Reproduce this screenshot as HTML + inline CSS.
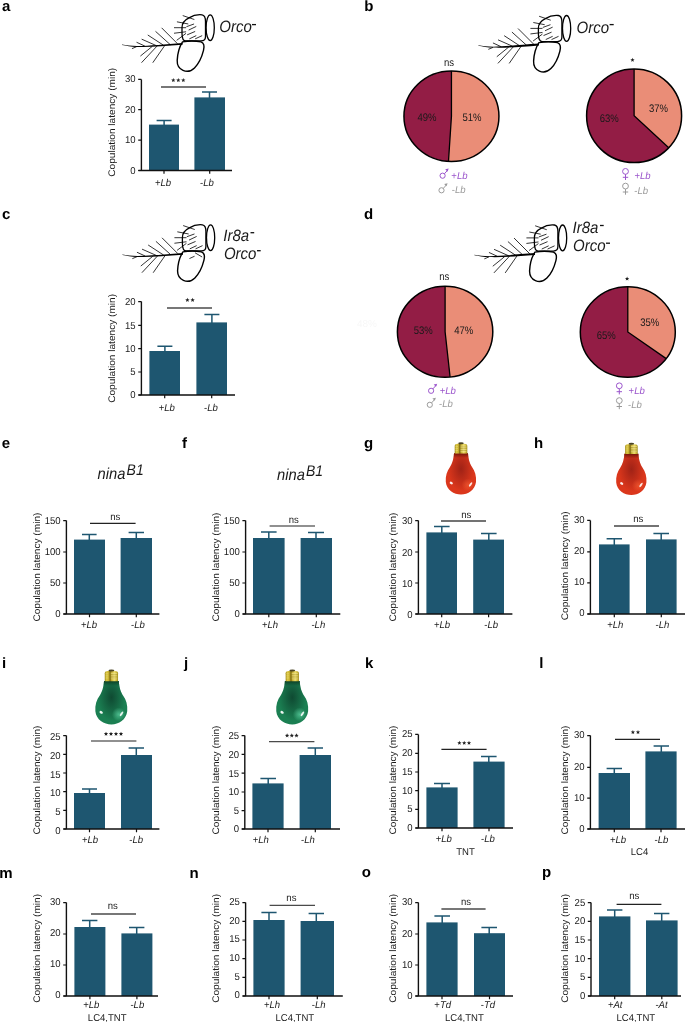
<!DOCTYPE html><html><head><meta charset="utf-8"><style>
html,body{margin:0;padding:0;background:#fff;}svg{display:block;will-change:transform;}
text{text-rendering:geometricPrecision;font-family:"Liberation Sans",sans-serif;font-size:10px;fill:#1a1a1a;}
.pl{font-weight:bold;font-size:15px;fill:#000;}
</style></head><body>
<svg width="685" height="1022" viewBox="0 0 685 1022">
<defs>

<g id="ant" fill="none" stroke="#000" stroke-linecap="round" stroke-linejoin="round">
 <path d="M182.6 42.5C165 43.7 150 45.4 137 45.6C131 45.6 126 44.9 122 44.2L122 44.6C126 45.4 131 46.3 137 46.5C150 46.9 165 45.7 182.6 44.3Z" fill="#000" stroke="none"/>
 <path d="M177.2 43L161.9 27.7M170 44L155.8 31.2M163 44.5L148.1 34.8M155.8 45L142 38.9M144.5 45.5L136.9 42M136.3 46.4L132.3 48.1" stroke-width="0.8"/>
 <path d="M164.7 45.2L153 62M157 45.7L141.8 62M152 46.2L140.7 55.4" stroke-width="0.8"/>
 <path d="M189 17.5C193 15 198 14 202 14.4C205 14.8 205.5 18 205.5 21L205.5 36C205.5 39 204 40.5 201 40.5L186 40.5C183 40.5 182 37 182 33L182 27C182 23 185 19.5 189 17.5Z" stroke-width="1.3"/>
 <ellipse cx="210.2" cy="27.3" rx="4.1" ry="12.9" stroke-width="1.3"/>
 <path d="M182.5 41.5C188 40.5 196 40.5 201 41.5C204 42.5 204.5 46 203.5 50C202 56 199 63 194.5 67.5C191 71 186.5 71.5 183 70C178.5 68 177 65 177.2 60C177.5 54 179 47 182.5 41.5Z" stroke-width="1.4"/>
 <path d="M183.1 15.3L194 19M177.3 21.5L187.9 23.5M174.4 27.3L185.7 27.3M174.4 32.8L185.7 31.4M177 39.7L185.7 33.2" stroke-width="0.8"/>
 <path d="M186.8 26.2L193.7 23.7M189 29.5L195.9 26.2M187.5 34.3L194.8 31.2M189.7 38.3L195.9 35.4M195.5 38.3L201.8 35.4" stroke-width="0.8"/>
</g>

<radialGradient id="rbg" gradientUnits="userSpaceOnUse" cx="0" cy="27" r="1" gradientTransform="translate(0 27) scale(13 22) translate(0 -27)">
 <stop offset="0" stop-color="#a02216"/>
 <stop offset="0.55" stop-color="#a02216" stop-opacity="0.45"/>
 <stop offset="1" stop-color="#a02216" stop-opacity="0"/>
</radialGradient>
<linearGradient id="rbb" gradientUnits="userSpaceOnUse" x1="0" y1="11.4" x2="0" y2="16">
 <stop offset="0" stop-color="#6a1208" stop-opacity="0.9"/>
 <stop offset="1" stop-color="#6a1208" stop-opacity="0"/>
</linearGradient>
<radialGradient id="rbw" gradientUnits="userSpaceOnUse" cx="7" cy="43" r="6.5">
 <stop offset="0" stop-color="#ff6a3a" stop-opacity="0.5"/>
 <stop offset="1" stop-color="#ff6a3a" stop-opacity="0"/>
</radialGradient>
<g id="rb">
 <path d="M-7 11.4L7 11.4C7.5 18.1 9 22.1 11 25.1C14 29.1 15.5 34.1 15 40.1C14 48.1 7 52.6 0 52.6C-7 52.6 -14.5 48.1 -15.2 40.1C-15.7 34.1 -14 29.1 -11 25.1C-9 22.1 -7.5 18.1 -7 11.4Z" fill="#db371c"/>
 <path d="M-7 11.4L7 11.4C7.5 18.1 9 22.1 11 25.1C14 29.1 15.5 34.1 15 40.1C14 48.1 7 52.6 0 52.6C-7 52.6 -14.5 48.1 -15.2 40.1C-15.7 34.1 -14 29.1 -11 25.1C-9 22.1 -7.5 18.1 -7 11.4Z" fill="url(#rbg)"/>
 <path d="M-7 11.4L7 11.4C7.5 18.1 9 22.1 11 25.1C14 29.1 15.5 34.1 15 40.1C14 48.1 7 52.6 0 52.6C-7 52.6 -14.5 48.1 -15.2 40.1C-15.7 34.1 -14 29.1 -11 25.1C-9 22.1 -7.5 18.1 -7 11.4Z" fill="url(#rbb)"/>
 <path d="M-7 11.4L7 11.4C7.5 18.1 9 22.1 11 25.1C14 29.1 15.5 34.1 15 40.1C14 48.1 7 52.6 0 52.6C-7 52.6 -14.5 48.1 -15.2 40.1C-15.7 34.1 -14 29.1 -11 25.1C-9 22.1 -7.5 18.1 -7 11.4Z" fill="url(#rbw)"/>
 <ellipse cx="-9.7" cy="41.1" rx="1.7" ry="1.2" fill="#fff" opacity="0.92" transform="rotate(30 -9.7 41.1)"/>
 <ellipse cx="9.6" cy="42.5" rx="0.95" ry="2.6" fill="#fff" opacity="0.88" transform="rotate(35 9.6 42.5)"/>
</g>

<radialGradient id="gbg" gradientUnits="userSpaceOnUse" cx="0" cy="27" r="1" gradientTransform="translate(0 27) scale(13 22) translate(0 -27)">
 <stop offset="0" stop-color="#0f4a32"/>
 <stop offset="0.55" stop-color="#0f4a32" stop-opacity="0.45"/>
 <stop offset="1" stop-color="#0f4a32" stop-opacity="0"/>
</radialGradient>
<linearGradient id="gbb" gradientUnits="userSpaceOnUse" x1="0" y1="11.4" x2="0" y2="16">
 <stop offset="0" stop-color="#0a3a22" stop-opacity="0.9"/>
 <stop offset="1" stop-color="#0a3a22" stop-opacity="0"/>
</linearGradient>
<radialGradient id="gbw" gradientUnits="userSpaceOnUse" cx="7" cy="43" r="6.5">
 <stop offset="0" stop-color="#5ad0a0" stop-opacity="0.75"/>
 <stop offset="1" stop-color="#5ad0a0" stop-opacity="0"/>
</radialGradient>
<g id="gb">
 <path d="M-7 11.4L7 11.4C7.5 18.1 9 22.1 11 25.1C14 29.1 15.5 34.1 15 40.1C14 48.1 7 52.6 0 52.6C-7 52.6 -14.5 48.1 -15.2 40.1C-15.7 34.1 -14 29.1 -11 25.1C-9 22.1 -7.5 18.1 -7 11.4Z" fill="#1b7f52"/>
 <path d="M-7 11.4L7 11.4C7.5 18.1 9 22.1 11 25.1C14 29.1 15.5 34.1 15 40.1C14 48.1 7 52.6 0 52.6C-7 52.6 -14.5 48.1 -15.2 40.1C-15.7 34.1 -14 29.1 -11 25.1C-9 22.1 -7.5 18.1 -7 11.4Z" fill="url(#gbg)"/>
 <path d="M-7 11.4L7 11.4C7.5 18.1 9 22.1 11 25.1C14 29.1 15.5 34.1 15 40.1C14 48.1 7 52.6 0 52.6C-7 52.6 -14.5 48.1 -15.2 40.1C-15.7 34.1 -14 29.1 -11 25.1C-9 22.1 -7.5 18.1 -7 11.4Z" fill="url(#gbb)"/>
 <path d="M-7 11.4L7 11.4C7.5 18.1 9 22.1 11 25.1C14 29.1 15.5 34.1 15 40.1C14 48.1 7 52.6 0 52.6C-7 52.6 -14.5 48.1 -15.2 40.1C-15.7 34.1 -14 29.1 -11 25.1C-9 22.1 -7.5 18.1 -7 11.4Z" fill="url(#gbw)"/>
 <ellipse cx="-9.7" cy="41.1" rx="1.7" ry="1.2" fill="#fff" opacity="0.92" transform="rotate(30 -9.7 41.1)"/>
 <ellipse cx="9.6" cy="42.5" rx="0.95" ry="2.6" fill="#fff" opacity="0.88" transform="rotate(35 9.6 42.5)"/>
</g>

<linearGradient id="goldg" x1="0" x2="1" y1="0" y2="0">
 <stop offset="0" stop-color="#a08a18"/>
 <stop offset="0.15" stop-color="#dcc844"/>
 <stop offset="0.3" stop-color="#c4ac2c"/>
 <stop offset="0.4" stop-color="#7a6810"/>
 <stop offset="0.52" stop-color="#c8b034"/>
 <stop offset="0.72" stop-color="#ecdc6c"/>
 <stop offset="0.86" stop-color="#d2bc3c"/>
 <stop offset="1" stop-color="#9c8818"/>
</linearGradient>
<g id="cap">
 <path d="M-6.3 11.6V4C-6.3 2.6 -5 1.8 -3.5 1.8H3.5C5 1.8 6.3 2.6 6.3 4V11.6Z" fill="url(#goldg)"/>
 <path d="M-0.5 4.2H5.6M-0.5 5.9H5.6M-0.5 7.6H5.6M-0.5 9.3H5.6" stroke="#fff6b0" stroke-width="0.7" opacity="0.7"/>
 <path d="M-0.5 5H5.6M-0.5 6.8H5.6M-0.5 8.5H5.6" stroke="#7a6a10" stroke-width="0.5" opacity="0.5"/>
 <path d="M-5.6 4.5H-3M-5.6 6.5H-3M-5.6 8.5H-3" stroke="#f0e080" stroke-width="0.8" opacity="0.6"/>
 <ellipse cx="0" cy="1.4" rx="2.8" ry="1.0" fill="#4a4424"/>
</g>
</defs>
<text class="pl" x="2.0" y="10.6">a</text>
<text class="pl" x="364.2" y="10.5">b</text>
<text class="pl" x="1.9" y="219.2">c</text>
<text class="pl" x="363.9" y="218.9">d</text>
<text class="pl" x="1.7" y="447.5">e</text>
<text class="pl" x="182.1" y="447.5">f</text>
<text class="pl" x="363.9" y="447.6">g</text>
<text class="pl" x="534.1" y="447.7">h</text>
<text class="pl" x="2.1" y="667.9">i</text>
<text class="pl" x="183.9" y="668">j</text>
<text class="pl" x="365" y="667.9">k</text>
<text class="pl" x="539.2" y="667.9">l</text>
<text class="pl" x="-0.76" y="877.5">m</text>
<text class="pl" x="189.4" y="877.7">n</text>
<text class="pl" x="361.7" y="877.2">o</text>
<text class="pl" x="542.1" y="877.4">p</text>
<rect x="149" y="124.6" width="30" height="45.9" fill="#1E5670"/>
<path d="M164.1 125.6V120.4M156.6 120.4H171.6" stroke="#1E5670" stroke-width="1.5" fill="none"/>
<rect x="194.4" y="97.4" width="30.6" height="73.1" fill="#1E5670"/>
<path d="M209.5 98.4V92M202 92H217" stroke="#1E5670" stroke-width="1.5" fill="none"/>
<path d="M141.4 79.4V170.5M138.4 170.5H232" stroke="#111" stroke-width="1.4" fill="none"/>
<path d="M138.2 79.4H141.4M138.2 109.7H141.4M138.2 140.1H141.4M138.2 170.5H141.4M164 170.5v3.2M209.7 170.5v3.2" stroke="#111" stroke-width="1.2" fill="none"/>
<text transform="translate(135.6 82.4) scale(0.955 1)" text-anchor="end">30</text>
<text transform="translate(135.6 112.7) scale(0.955 1)" text-anchor="end">20</text>
<text transform="translate(135.6 143.1) scale(0.955 1)" text-anchor="end">10</text>
<text transform="translate(135.6 173.5) scale(0.955 1)" text-anchor="end">0</text>
<path d="M161 87H206" stroke="#4a4a4a" stroke-width="1.4"/>
<path d="M173.3,77.95L173.89,79.39L175.44,79.5L174.25,80.51L174.62,82.02L173.3,81.2L171.98,82.02L172.35,80.51L171.16,79.5L172.71,79.39ZM178.3,77.95L178.89,79.39L180.44,79.5L179.25,80.51L179.62,82.02L178.3,81.2L176.98,82.02L177.35,80.51L176.16,79.5L177.71,79.39ZM183.3,77.95L183.89,79.39L185.44,79.5L184.25,80.51L184.62,82.02L183.3,81.2L181.98,82.02L182.35,80.51L181.16,79.5L182.71,79.39Z" fill="#222"/>
<text transform="translate(163 185.5) scale(0.955 1)" text-anchor="middle">+<tspan font-style="italic">Lb</tspan></text>
<text transform="translate(207 185.5) scale(0.955 1)" text-anchor="middle">-<tspan font-style="italic">Lb</tspan></text>
<text transform="translate(115.1 122.3) rotate(-90) scale(1.01 0.95)" text-anchor="middle">Copulation latency (min)</text>
<rect x="149.4" y="351" width="30.6" height="44" fill="#1E5670"/>
<path d="M164.9 352V346.2M157.4 346.2H172.4" stroke="#1E5670" stroke-width="1.5" fill="none"/>
<rect x="196.4" y="322.4" width="30.6" height="72.6" fill="#1E5670"/>
<path d="M211.9 323.4V314.4M204.4 314.4H219.4" stroke="#1E5670" stroke-width="1.5" fill="none"/>
<path d="M141.4 301.6V395M138.4 395H235" stroke="#111" stroke-width="1.4" fill="none"/>
<path d="M138.2 301.6H141.4M138.2 325.4H141.4M138.2 348.6H141.4M138.2 372H141.4M138.2 395H141.4M164.7 395v3.2M211.7 395v3.2" stroke="#111" stroke-width="1.2" fill="none"/>
<text transform="translate(135.6 304.85) scale(0.955 1)" text-anchor="end">20</text>
<text transform="translate(135.6 328.65) scale(0.955 1)" text-anchor="end">15</text>
<text transform="translate(135.6 351.85) scale(0.955 1)" text-anchor="end">10</text>
<text transform="translate(135.6 375.25) scale(0.955 1)" text-anchor="end">5</text>
<text transform="translate(135.6 398.25) scale(0.955 1)" text-anchor="end">0</text>
<path d="M167 308H212" stroke="#4a4a4a" stroke-width="1.4"/>
<path d="M187.4,297.85L187.99,299.29L189.54,299.4L188.35,300.41L188.72,301.92L187.4,301.1L186.08,301.92L186.45,300.41L185.26,299.4L186.81,299.29ZM192.6,297.85L193.19,299.29L194.74,299.4L193.55,300.41L193.92,301.92L192.6,301.1L191.28,301.92L191.65,300.41L190.46,299.4L192.01,299.29Z" fill="#222"/>
<text transform="translate(166.8 410.5) scale(0.955 1)" text-anchor="middle">+<tspan font-style="italic">Lb</tspan></text>
<text transform="translate(211 410.5) scale(0.955 1)" text-anchor="middle">-<tspan font-style="italic">Lb</tspan></text>
<text transform="translate(115.1 348.4) rotate(-90) scale(1.01 0.95)" text-anchor="middle">Copulation latency (min)</text>
<rect x="74" y="539.6" width="31" height="74.4" fill="#1E5670"/>
<path d="M89.3 540.6V534.4M82 534.4H96.6" stroke="#1E5670" stroke-width="1.5" fill="none"/>
<rect x="120.6" y="538" width="31.4" height="76" fill="#1E5670"/>
<path d="M136.3 539V532.4M128.6 532.4H144" stroke="#1E5670" stroke-width="1.5" fill="none"/>
<path d="M66.4 520.6V614M63.4 614H159.4" stroke="#111" stroke-width="1.4" fill="none"/>
<path d="M63.2 520.6H66.4M63.2 552H66.4M63.2 583H66.4M63.2 614H66.4M89.5 614v3.2M136.3 614v3.2" stroke="#111" stroke-width="1.2" fill="none"/>
<text transform="translate(60.6 524) scale(0.955 1)" text-anchor="end">150</text>
<text transform="translate(60.6 555.4) scale(0.955 1)" text-anchor="end">100</text>
<text transform="translate(60.6 586.4) scale(0.955 1)" text-anchor="end">50</text>
<text transform="translate(60.6 617.4) scale(0.955 1)" text-anchor="end">0</text>
<path d="M90 523.4H135.6" stroke="#222" stroke-width="1.2"/>
<text transform="translate(115.3 520) scale(0.955 1)" text-anchor="middle">ns</text>
<text transform="translate(89 628) scale(0.955 1)" text-anchor="middle">+<tspan font-style="italic">Lb</tspan></text>
<text transform="translate(138 628) scale(0.955 1)" text-anchor="middle">-<tspan font-style="italic">Lb</tspan></text>
<text transform="translate(39.7 567.1) rotate(-90) scale(1.01 0.95)" text-anchor="middle">Copulation latency (min)</text>
<rect x="253" y="538" width="31.6" height="76" fill="#1E5670"/>
<path d="M268.8 539V532M261 532H276.6" stroke="#1E5670" stroke-width="1.5" fill="none"/>
<rect x="300.6" y="538" width="31.4" height="76" fill="#1E5670"/>
<path d="M316 539V532.4M308 532.4H324" stroke="#1E5670" stroke-width="1.5" fill="none"/>
<path d="M245.6 520.6V614M242.6 614H340.3" stroke="#111" stroke-width="1.4" fill="none"/>
<path d="M242.4 520.6H245.6M242.4 552H245.6M242.4 583H245.6M242.4 614H245.6M268.8 614v3.2M316.3 614v3.2" stroke="#111" stroke-width="1.2" fill="none"/>
<text transform="translate(239.8 523.9) scale(0.955 1)" text-anchor="end">150</text>
<text transform="translate(239.8 555.3) scale(0.955 1)" text-anchor="end">100</text>
<text transform="translate(239.8 586.3) scale(0.955 1)" text-anchor="end">50</text>
<text transform="translate(239.8 617.3) scale(0.955 1)" text-anchor="end">0</text>
<path d="M269.6 526H315" stroke="#222" stroke-width="1.2"/>
<text transform="translate(293.8 523) scale(0.955 1)" text-anchor="middle">ns</text>
<text transform="translate(270 628) scale(0.955 1)" text-anchor="middle">+<tspan font-style="italic">Lh</tspan></text>
<text transform="translate(318.3 628) scale(0.955 1)" text-anchor="middle">-<tspan font-style="italic">Lh</tspan></text>
<text transform="translate(218.7 567.1) rotate(-90) scale(1.01 0.95)" text-anchor="middle">Copulation latency (min)</text>
<rect x="426.4" y="532.4" width="30.6" height="81.6" fill="#1E5670"/>
<path d="M441.8 533.4V526.6M434 526.6H449.6" stroke="#1E5670" stroke-width="1.5" fill="none"/>
<rect x="473.2" y="539.6" width="30.8" height="74.4" fill="#1E5670"/>
<path d="M488.8 540.6V533.4M481 533.4H496.6" stroke="#1E5670" stroke-width="1.5" fill="none"/>
<path d="M418.4 520.6V614M415.4 614H512.4" stroke="#111" stroke-width="1.4" fill="none"/>
<path d="M415.2 520.6H418.4M415.2 552H418.4M415.2 583H418.4M415.2 614H418.4M441.7 614v3.2M488.6 614v3.2" stroke="#111" stroke-width="1.2" fill="none"/>
<text transform="translate(412.6 524.2) scale(0.955 1)" text-anchor="end">30</text>
<text transform="translate(412.6 555.6) scale(0.955 1)" text-anchor="end">20</text>
<text transform="translate(412.6 586.6) scale(0.955 1)" text-anchor="end">10</text>
<text transform="translate(412.6 617.6) scale(0.955 1)" text-anchor="end">0</text>
<path d="M441 521H486" stroke="#444" stroke-width="1.3"/>
<text transform="translate(466.2 518.4) scale(0.955 1)" text-anchor="middle">ns</text>
<text transform="translate(442 628) scale(0.955 1)" text-anchor="middle">+<tspan font-style="italic">Lb</tspan></text>
<text transform="translate(491.2 628) scale(0.955 1)" text-anchor="middle">-<tspan font-style="italic">Lb</tspan></text>
<text transform="translate(395.8 567.1) rotate(-90) scale(1.01 0.95)" text-anchor="middle">Copulation latency (min)</text>
<rect x="599" y="544.4" width="30.6" height="69.6" fill="#1E5670"/>
<path d="M614.3 545.4V538.8M606.6 538.8H622" stroke="#1E5670" stroke-width="1.5" fill="none"/>
<rect x="646" y="539.4" width="30.6" height="74.6" fill="#1E5670"/>
<path d="M661.2 540.4V533.4M653.4 533.4H669" stroke="#1E5670" stroke-width="1.5" fill="none"/>
<path d="M590.4 520.4V614M587.4 614H686" stroke="#111" stroke-width="1.4" fill="none"/>
<path d="M587.2 520.4H590.4M587.2 551.8H590.4M587.2 582.8H590.4M587.2 614H590.4M614.3 614v3.2M661.3 614v3.2" stroke="#111" stroke-width="1.2" fill="none"/>
<text transform="translate(584.6 522.5) scale(0.955 1)" text-anchor="end">30</text>
<text transform="translate(584.6 553.9) scale(0.955 1)" text-anchor="end">20</text>
<text transform="translate(584.6 584.9) scale(0.955 1)" text-anchor="end">10</text>
<text transform="translate(584.6 616.1) scale(0.955 1)" text-anchor="end">0</text>
<path d="M614 526H659" stroke="#444" stroke-width="1.3"/>
<text transform="translate(638.3 522) scale(0.955 1)" text-anchor="middle">ns</text>
<text transform="translate(615.3 628) scale(0.955 1)" text-anchor="middle">+<tspan font-style="italic">Lh</tspan></text>
<text transform="translate(662.5 628) scale(0.955 1)" text-anchor="middle">-<tspan font-style="italic">Lh</tspan></text>
<text transform="translate(568 565.8) rotate(-90) scale(1.01 0.95)" text-anchor="middle">Copulation latency (min)</text>
<rect x="74" y="793" width="31" height="36" fill="#1E5670"/>
<path d="M89.5 794V789M82 789H97" stroke="#1E5670" stroke-width="1.5" fill="none"/>
<rect x="121" y="755" width="31" height="74" fill="#1E5670"/>
<path d="M136.3 756V748M128.6 748H144" stroke="#1E5670" stroke-width="1.5" fill="none"/>
<path d="M66.4 735.6V829M63.4 829H159.4" stroke="#111" stroke-width="1.4" fill="none"/>
<path d="M63.2 735.6H66.4M63.2 754.4H66.4M63.2 773H66.4M63.2 791.6H66.4M63.2 810.4H66.4M63.2 829H66.4M89.5 829v3.2M136.5 829v3.2" stroke="#111" stroke-width="1.2" fill="none"/>
<text transform="translate(60.6 740.3) scale(0.955 1)" text-anchor="end">25</text>
<text transform="translate(60.6 759.1) scale(0.955 1)" text-anchor="end">20</text>
<text transform="translate(60.6 777.7) scale(0.955 1)" text-anchor="end">15</text>
<text transform="translate(60.6 796.3) scale(0.955 1)" text-anchor="end">10</text>
<text transform="translate(60.6 815.1) scale(0.955 1)" text-anchor="end">5</text>
<text transform="translate(60.6 833.7) scale(0.955 1)" text-anchor="end">0</text>
<path d="M91 741H136.4" stroke="#222" stroke-width="1.2"/>
<path d="M106,731.65L106.59,733.09L108.14,733.2L106.95,734.21L107.32,735.72L106,734.9L104.68,735.72L105.05,734.21L103.86,733.2L105.41,733.09ZM111,731.65L111.59,733.09L113.14,733.2L111.95,734.21L112.32,735.72L111,734.9L109.68,735.72L110.05,734.21L108.86,733.2L110.41,733.09ZM116,731.65L116.59,733.09L118.14,733.2L116.95,734.21L117.32,735.72L116,734.9L114.68,735.72L115.05,734.21L113.86,733.2L115.41,733.09ZM121,731.65L121.59,733.09L123.14,733.2L121.95,734.21L122.32,735.72L121,734.9L119.68,735.72L120.05,734.21L118.86,733.2L120.41,733.09Z" fill="#222"/>
<text transform="translate(90 843) scale(0.955 1)" text-anchor="middle">+<tspan font-style="italic">Lb</tspan></text>
<text transform="translate(136.2 843) scale(0.955 1)" text-anchor="middle">-<tspan font-style="italic">Lb</tspan></text>
<text transform="translate(39.7 780) rotate(-90) scale(1.01 0.95)" text-anchor="middle">Copulation latency (min)</text>
<rect x="252.4" y="783.4" width="31.2" height="45.6" fill="#1E5670"/>
<path d="M268.2 784.4V778.4M260.4 778.4H276" stroke="#1E5670" stroke-width="1.5" fill="none"/>
<rect x="299.6" y="755" width="31.4" height="74" fill="#1E5670"/>
<path d="M315.3 756V748M307.6 748H323" stroke="#1E5670" stroke-width="1.5" fill="none"/>
<path d="M244.8 735.6V829M241.8 829H340" stroke="#111" stroke-width="1.4" fill="none"/>
<path d="M241.6 735.6H244.8M241.6 754.4H244.8M241.6 773.2H244.8M241.6 792H244.8M241.6 810.6H244.8M241.6 829H244.8M268 829v3.2M315.3 829v3.2" stroke="#111" stroke-width="1.2" fill="none"/>
<text transform="translate(239 738.95) scale(0.955 1)" text-anchor="end">25</text>
<text transform="translate(239 757.75) scale(0.955 1)" text-anchor="end">20</text>
<text transform="translate(239 776.55) scale(0.955 1)" text-anchor="end">15</text>
<text transform="translate(239 795.35) scale(0.955 1)" text-anchor="end">10</text>
<text transform="translate(239 813.95) scale(0.955 1)" text-anchor="end">5</text>
<text transform="translate(239 832.35) scale(0.955 1)" text-anchor="end">0</text>
<path d="M269 741.6H314.4" stroke="#4a4a4a" stroke-width="1.4"/>
<path d="M287.1,733.35L287.69,734.79L289.24,734.9L288.05,735.91L288.42,737.42L287.1,736.6L285.78,737.42L286.15,735.91L284.96,734.9L286.51,734.79ZM291.8,733.35L292.39,734.79L293.94,734.9L292.75,735.91L293.12,737.42L291.8,736.6L290.48,737.42L290.85,735.91L289.66,734.9L291.21,734.79ZM296.5,733.35L297.09,734.79L298.64,734.9L297.45,735.91L297.82,737.42L296.5,736.6L295.18,737.42L295.55,735.91L294.36,734.9L295.91,734.79Z" fill="#222"/>
<text transform="translate(260.8 843) scale(0.955 1)" text-anchor="middle">+<tspan font-style="italic">Lh</tspan></text>
<text transform="translate(307.9 843) scale(0.955 1)" text-anchor="middle">-<tspan font-style="italic">Lh</tspan></text>
<text transform="translate(218.7 780) rotate(-90) scale(1.01 0.95)" text-anchor="middle">Copulation latency (min)</text>
<rect x="426.4" y="787.4" width="31.2" height="40.6" fill="#1E5670"/>
<path d="M442 788.4V783.6M434 783.6H450" stroke="#1E5670" stroke-width="1.5" fill="none"/>
<rect x="473.4" y="761.6" width="31.2" height="66.4" fill="#1E5670"/>
<path d="M488.8 762.6V756.4M481 756.4H496.6" stroke="#1E5670" stroke-width="1.5" fill="none"/>
<path d="M418.4 734.4V828M415.4 828H513" stroke="#111" stroke-width="1.4" fill="none"/>
<path d="M415.2 734.4H418.4M415.2 753.4H418.4M415.2 772H418.4M415.2 790.6H418.4M415.2 809.4H418.4M415.2 828H418.4M442 828v3.2M489 828v3.2" stroke="#111" stroke-width="1.2" fill="none"/>
<text transform="translate(412.6 737.3) scale(0.955 1)" text-anchor="end">25</text>
<text transform="translate(412.6 756.3) scale(0.955 1)" text-anchor="end">20</text>
<text transform="translate(412.6 774.9) scale(0.955 1)" text-anchor="end">15</text>
<text transform="translate(412.6 793.5) scale(0.955 1)" text-anchor="end">10</text>
<text transform="translate(412.6 812.3) scale(0.955 1)" text-anchor="end">5</text>
<text transform="translate(412.6 830.9) scale(0.955 1)" text-anchor="end">0</text>
<path d="M441.4 749.4H486.6" stroke="#222" stroke-width="1.2"/>
<path d="M459.4,740.75L459.99,742.19L461.54,742.3L460.35,743.31L460.72,744.82L459.4,744L458.08,744.82L458.45,743.31L457.26,742.3L458.81,742.19ZM464.2,740.75L464.79,742.19L466.34,742.3L465.15,743.31L465.52,744.82L464.2,744L462.88,744.82L463.25,743.31L462.06,742.3L463.61,742.19ZM469,740.75L469.59,742.19L471.14,742.3L469.95,743.31L470.32,744.82L469,744L467.68,744.82L468.05,743.31L466.86,742.3L468.41,742.19Z" fill="#222"/>
<text transform="translate(443.8 841.5) scale(0.955 1)" text-anchor="middle">+<tspan font-style="italic">Lb</tspan></text>
<text transform="translate(488 841.5) scale(0.955 1)" text-anchor="middle">-<tspan font-style="italic">Lb</tspan></text>
<text transform="translate(465.5 854.5) scale(0.955 1)" text-anchor="middle">TNT</text>
<text transform="translate(395.8 780) rotate(-90) scale(1.01 0.95)" text-anchor="middle">Copulation latency (min)</text>
<rect x="598.6" y="773" width="31.4" height="56" fill="#1E5670"/>
<path d="M614.3 774V768.6M606.6 768.6H622" stroke="#1E5670" stroke-width="1.5" fill="none"/>
<rect x="645.4" y="751.4" width="31.2" height="77.6" fill="#1E5670"/>
<path d="M661.3 752.4V746M653.6 746H669" stroke="#1E5670" stroke-width="1.5" fill="none"/>
<path d="M590.4 735.6V829M587.4 829H686" stroke="#111" stroke-width="1.4" fill="none"/>
<path d="M587.2 735.6H590.4M587.2 767.4H590.4M587.2 798.2H590.4M587.2 829H590.4M614.3 829v3.2M661 829v3.2" stroke="#111" stroke-width="1.2" fill="none"/>
<text transform="translate(584.6 738.2) scale(0.955 1)" text-anchor="end">30</text>
<text transform="translate(584.6 770) scale(0.955 1)" text-anchor="end">20</text>
<text transform="translate(584.6 800.8) scale(0.955 1)" text-anchor="end">10</text>
<text transform="translate(584.6 831.6) scale(0.955 1)" text-anchor="end">0</text>
<path d="M615 739.4H660" stroke="#222" stroke-width="1.2"/>
<path d="M632.9,729.95L633.49,731.39L635.04,731.5L633.85,732.51L634.22,734.02L632.9,733.2L631.58,734.02L631.95,732.51L630.76,731.5L632.31,731.39ZM638,729.95L638.59,731.39L640.14,731.5L638.95,732.51L639.32,734.02L638,733.2L636.68,734.02L637.05,732.51L635.86,731.5L637.41,731.39Z" fill="#222"/>
<text transform="translate(618 842.5) scale(0.955 1)" text-anchor="middle">+<tspan font-style="italic">Lb</tspan></text>
<text transform="translate(661.5 842.5) scale(0.955 1)" text-anchor="middle">-<tspan font-style="italic">Lb</tspan></text>
<text transform="translate(639.5 855) scale(0.955 1)" text-anchor="middle">LC4</text>
<text transform="translate(568 780) rotate(-90) scale(1.01 0.95)" text-anchor="middle">Copulation latency (min)</text>
<rect x="74.4" y="927" width="31" height="69" fill="#1E5670"/>
<path d="M89.7 928V920.6M82 920.6H97.4" stroke="#1E5670" stroke-width="1.5" fill="none"/>
<rect x="121.4" y="933.4" width="31" height="62.6" fill="#1E5670"/>
<path d="M136.7 934.4V927.4M129 927.4H144.4" stroke="#1E5670" stroke-width="1.5" fill="none"/>
<path d="M66.4 902.6V996M63.4 996H158" stroke="#111" stroke-width="1.4" fill="none"/>
<path d="M63.2 902.6H66.4M63.2 934H66.4M63.2 965H66.4M63.2 996H66.4M89.9 996v3.2M136.9 996v3.2" stroke="#111" stroke-width="1.2" fill="none"/>
<text transform="translate(60.6 905.05) scale(0.955 1)" text-anchor="end">30</text>
<text transform="translate(60.6 936.45) scale(0.955 1)" text-anchor="end">20</text>
<text transform="translate(60.6 967.45) scale(0.955 1)" text-anchor="end">10</text>
<text transform="translate(60.6 998.45) scale(0.955 1)" text-anchor="end">0</text>
<path d="M91 914H136" stroke="#4a4a4a" stroke-width="1.4"/>
<text transform="translate(112.8 909.4) scale(0.955 1)" text-anchor="middle">ns</text>
<text transform="translate(91.3 1008) scale(0.955 1)" text-anchor="middle">+<tspan font-style="italic">Lb</tspan></text>
<text transform="translate(137.3 1008) scale(0.955 1)" text-anchor="middle">-<tspan font-style="italic">Lb</tspan></text>
<text transform="translate(107.2 1020.5) scale(0.955 1)" text-anchor="middle">LC4,TNT</text>
<text transform="translate(39.7 948.4) rotate(-90) scale(1.01 0.95)" text-anchor="middle">Copulation latency (min)</text>
<rect x="253.4" y="920" width="31.2" height="76" fill="#1E5670"/>
<path d="M269 921V912.4M261.4 912.4H276.6" stroke="#1E5670" stroke-width="1.5" fill="none"/>
<rect x="300.6" y="921" width="33.4" height="75" fill="#1E5670"/>
<path d="M316.3 922V913.6M308.6 913.6H324" stroke="#1E5670" stroke-width="1.5" fill="none"/>
<path d="M245.6 902.6V996M242.6 996H342.8" stroke="#111" stroke-width="1.4" fill="none"/>
<path d="M242.4 902.6H245.6M242.4 921.4H245.6M242.4 940H245.6M242.4 958.6H245.6M242.4 977.4H245.6M242.4 996H245.6M269 996v3.2M317.3 996v3.2" stroke="#111" stroke-width="1.2" fill="none"/>
<text transform="translate(239.8 904.95) scale(0.955 1)" text-anchor="end">25</text>
<text transform="translate(239.8 923.75) scale(0.955 1)" text-anchor="end">20</text>
<text transform="translate(239.8 942.35) scale(0.955 1)" text-anchor="end">15</text>
<text transform="translate(239.8 960.95) scale(0.955 1)" text-anchor="end">10</text>
<text transform="translate(239.8 979.75) scale(0.955 1)" text-anchor="end">5</text>
<text transform="translate(239.8 998.35) scale(0.955 1)" text-anchor="end">0</text>
<path d="M269.6 905.4H315" stroke="#4a4a4a" stroke-width="1.4"/>
<text transform="translate(291.4 901.4) scale(0.955 1)" text-anchor="middle">ns</text>
<text transform="translate(272 1008) scale(0.955 1)" text-anchor="middle">+<tspan font-style="italic">Lh</tspan></text>
<text transform="translate(318.7 1008) scale(0.955 1)" text-anchor="middle">-<tspan font-style="italic">Lh</tspan></text>
<text transform="translate(294.8 1020.5) scale(0.955 1)" text-anchor="middle">LC4,TNT</text>
<text transform="translate(218.7 948.4) rotate(-90) scale(1.01 0.95)" text-anchor="middle">Copulation latency (min)</text>
<rect x="426.4" y="922.4" width="31.2" height="73.6" fill="#1E5670"/>
<path d="M442.2 923.4V916M434.4 916H450" stroke="#1E5670" stroke-width="1.5" fill="none"/>
<rect x="474" y="933.2" width="31" height="62.8" fill="#1E5670"/>
<path d="M489.2 934.2V927.4M481.4 927.4H497" stroke="#1E5670" stroke-width="1.5" fill="none"/>
<path d="M418.4 902.6V996M415.4 996H513" stroke="#111" stroke-width="1.4" fill="none"/>
<path d="M415.2 902.6H418.4M415.2 934H418.4M415.2 965H418.4M415.2 996H418.4M442 996v3.2M489.5 996v3.2" stroke="#111" stroke-width="1.2" fill="none"/>
<text transform="translate(412.6 905.1) scale(0.955 1)" text-anchor="end">30</text>
<text transform="translate(412.6 936.5) scale(0.955 1)" text-anchor="end">20</text>
<text transform="translate(412.6 967.5) scale(0.955 1)" text-anchor="end">10</text>
<text transform="translate(412.6 998.5) scale(0.955 1)" text-anchor="end">0</text>
<path d="M441.4 909H485.6" stroke="#4a4a4a" stroke-width="1.4"/>
<text transform="translate(466 905) scale(0.955 1)" text-anchor="middle">ns</text>
<text transform="translate(442.7 1008) scale(0.955 1)" text-anchor="middle">+<tspan font-style="italic">Td</tspan></text>
<text transform="translate(488 1008) scale(0.955 1)" text-anchor="middle">-<tspan font-style="italic">Td</tspan></text>
<text transform="translate(464.4 1020.5) scale(0.955 1)" text-anchor="middle">LC4,TNT</text>
<text transform="translate(395.8 948.3) rotate(-90) scale(1.01 0.95)" text-anchor="middle">Copulation latency (min)</text>
<rect x="599" y="916.4" width="31.4" height="79.6" fill="#1E5670"/>
<path d="M614.7 917.4V910M607 910H622.4" stroke="#1E5670" stroke-width="1.5" fill="none"/>
<rect x="646" y="920.4" width="31.6" height="75.6" fill="#1E5670"/>
<path d="M661.7 921.4V913.6M654 913.6H669.4" stroke="#1E5670" stroke-width="1.5" fill="none"/>
<path d="M591 902.6V996M588 996H681" stroke="#111" stroke-width="1.4" fill="none"/>
<path d="M587.8 902.6H591M587.8 921.4H591M587.8 940H591M587.8 958.6H591M587.8 977.4H591M587.8 996H591M614.7 996v3.2M661.8 996v3.2" stroke="#111" stroke-width="1.2" fill="none"/>
<text transform="translate(585.2 905.65) scale(0.955 1)" text-anchor="end">25</text>
<text transform="translate(585.2 924.45) scale(0.955 1)" text-anchor="end">20</text>
<text transform="translate(585.2 943.05) scale(0.955 1)" text-anchor="end">15</text>
<text transform="translate(585.2 961.65) scale(0.955 1)" text-anchor="end">10</text>
<text transform="translate(585.2 980.45) scale(0.955 1)" text-anchor="end">5</text>
<text transform="translate(585.2 999.05) scale(0.955 1)" text-anchor="end">0</text>
<path d="M616.6 904.4H661.4" stroke="#222" stroke-width="1.2"/>
<text transform="translate(634.3 898.6) scale(0.955 1)" text-anchor="middle">ns</text>
<text transform="translate(615.2 1008) scale(0.955 1)" text-anchor="middle">+<tspan font-style="italic">At</tspan></text>
<text transform="translate(661.5 1008) scale(0.955 1)" text-anchor="middle">-<tspan font-style="italic">At</tspan></text>
<text transform="translate(635.8 1020.5) scale(0.955 1)" text-anchor="middle">LC4,TNT</text>
<text transform="translate(568 948.4) rotate(-90) scale(1.01 0.95)" text-anchor="middle">Copulation latency (min)</text>
<ellipse cx="451.45" cy="116.25" rx="47.5" ry="45.3" fill="#931D45"/>
<path d="M451.45 116.25V70.95A47.5 45.3 0 1 1 448.47 161.46Z" fill="#EA8D77"/>
<path d="M451.45 70.95V116.25L448.47 161.46" stroke="#000" stroke-width="1.3" fill="none"/>
<ellipse cx="451.45" cy="116.25" rx="47.5" ry="45.3" fill="none" stroke="#000" stroke-width="1.5"/>
<ellipse cx="634.1" cy="115.75" rx="47.5" ry="46.8" fill="#931D45"/>
<path d="M634.1 115.75V68.95A47.5 46.8 0 0 1 668.73 147.79Z" fill="#EA8D77"/>
<path d="M634.1 68.95V115.75L668.73 147.79" stroke="#000" stroke-width="1.3" fill="none"/>
<ellipse cx="634.1" cy="115.75" rx="47.5" ry="46.8" fill="none" stroke="#000" stroke-width="1.5"/>
<ellipse cx="445.1" cy="331.8" rx="47.7" ry="45.5" fill="#931D45"/>
<path d="M445.1 331.8V286.3A47.7 45.5 0 0 1 450.09 377.05Z" fill="#EA8D77"/>
<path d="M445.1 286.3V331.8L450.09 377.05" stroke="#000" stroke-width="1.3" fill="none"/>
<ellipse cx="445.1" cy="331.8" rx="47.7" ry="45.5" fill="none" stroke="#000" stroke-width="1.5"/>
<ellipse cx="627.8" cy="332" rx="47.5" ry="45.3" fill="#931D45"/>
<path d="M627.8 332V286.7A47.5 45.3 0 0 1 666.23 358.63Z" fill="#EA8D77"/>
<path d="M627.8 286.7V332L666.23 358.63" stroke="#000" stroke-width="1.3" fill="none"/>
<ellipse cx="627.8" cy="332" rx="47.5" ry="45.3" fill="none" stroke="#000" stroke-width="1.5"/>
<text transform="translate(449 66) scale(0.955 1.07)" text-anchor="middle">ns</text>
<text transform="translate(427 121) scale(0.955 1.1)" text-anchor="middle">49%</text>
<text transform="translate(472 121) scale(0.955 1.1)" text-anchor="middle">51%</text>
<text transform="translate(658.5 112) scale(0.955 1.1)" text-anchor="middle">37%</text>
<text transform="translate(609.3 122.4) scale(0.955 1.1)" text-anchor="middle">63%</text>
<text transform="translate(444.2 280) scale(0.955 1.07)" text-anchor="middle">ns</text>
<text transform="translate(423.2 334) scale(0.955 1.1)" text-anchor="middle">53%</text>
<text transform="translate(463.8 334) scale(0.955 1.1)" text-anchor="middle">47%</text>
<text transform="translate(649.8 326.4) scale(0.955 1.1)" text-anchor="middle">35%</text>
<text transform="translate(606.3 339) scale(0.955 1.1)" text-anchor="middle">65%</text>
<path d="M632.5,57.75L633.09,59.19L634.64,59.3L633.45,60.31L633.82,61.82L632.5,61L631.18,61.82L631.55,60.31L630.36,59.3L631.91,59.19Z" fill="#222"/>
<path d="M627.1,276.45L627.69,277.89L629.24,278L628.05,279.01L628.42,280.52L627.1,279.7L625.78,280.52L626.15,279.01L624.96,278L626.51,277.89Z" fill="#222"/>
<text x="367" y="327" text-anchor="middle" style="fill:#f7f7f7">48%</text>
<circle cx="442.6" cy="175.7" r="2.6" fill="none" stroke="#9b55cc" stroke-width="1"/><path d="M444.4 173.8L447.6 170.2" stroke="#9b55cc" stroke-width="1"/><path d="M448.7 168.6L445.2 169.3L447.5 171.7Z" fill="#9b55cc"/>
<text transform="translate(451.3 178.9) scale(0.955 1)" style="fill:#9b55cc">+<tspan font-style="italic">Lb</tspan></text>
<circle cx="441.5" cy="190.3" r="2.6" fill="none" stroke="#9a9a9a" stroke-width="1"/><path d="M443.3 188.4L446.5 184.8" stroke="#9a9a9a" stroke-width="1"/><path d="M447.6 183.2L444.1 183.9L446.4 186.3Z" fill="#9a9a9a"/>
<text transform="translate(451.7 193.1) scale(0.955 1)" style="fill:#9a9a9a">-<tspan font-style="italic">Lb</tspan></text>
<circle cx="625.5" cy="171.4" r="2.9" fill="none" stroke="#9b55cc" stroke-width="1"/><path d="M625.5 174.3V180M622.8 177.3H628.2" stroke="#9b55cc" stroke-width="1" fill="none"/>
<text transform="translate(634.4 178.9) scale(0.955 1)" style="fill:#9b55cc">+<tspan font-style="italic">Lb</tspan></text>
<circle cx="625.5" cy="186.1" r="2.9" fill="none" stroke="#9a9a9a" stroke-width="1"/><path d="M625.5 189V194.7M622.8 192H628.2" stroke="#9a9a9a" stroke-width="1" fill="none"/>
<text transform="translate(634.2 193.6) scale(0.955 1)" style="fill:#9a9a9a">-<tspan font-style="italic">Lb</tspan></text>
<circle cx="431.1" cy="390.8" r="2.6" fill="none" stroke="#9b55cc" stroke-width="1"/><path d="M432.9 388.9L436.1 385.3" stroke="#9b55cc" stroke-width="1"/><path d="M437.2 383.7L433.7 384.4L436 386.8Z" fill="#9b55cc"/>
<text transform="translate(439.7 393.6) scale(0.955 1)" style="fill:#9b55cc">+<tspan font-style="italic">Lb</tspan></text>
<circle cx="429.8" cy="404.8" r="2.6" fill="none" stroke="#9a9a9a" stroke-width="1"/><path d="M431.6 402.9L434.8 399.3" stroke="#9a9a9a" stroke-width="1"/><path d="M435.9 397.7L432.4 398.4L434.7 400.8Z" fill="#9a9a9a"/>
<text transform="translate(439 406.9) scale(0.955 1)" style="fill:#9a9a9a">-<tspan font-style="italic">Lb</tspan></text>
<circle cx="619.3" cy="385.8" r="2.9" fill="none" stroke="#9b55cc" stroke-width="1"/><path d="M619.3 388.7V394.4M616.6 391.7H622" stroke="#9b55cc" stroke-width="1" fill="none"/>
<text transform="translate(628.6 393.7) scale(0.955 1)" style="fill:#9b55cc">+<tspan font-style="italic">Lb</tspan></text>
<circle cx="619.3" cy="400.6" r="2.9" fill="none" stroke="#9a9a9a" stroke-width="1"/><path d="M619.3 403.5V409.2M616.6 406.5H622" stroke="#9a9a9a" stroke-width="1" fill="none"/>
<text transform="translate(628 408.3) scale(0.955 1)" style="fill:#9a9a9a">-<tspan font-style="italic">Lb</tspan></text>
<use href="#ant" transform="translate(0 0.4)"/>
<use href="#ant" transform="translate(356.4 1.1)"/>
<use href="#ant" transform="translate(0.4 210.4)"/>
<path d="M189.8 258.4L194.2 256.4M195.4 253L201.8 256.8" stroke="#000" stroke-width="0.8" fill="none" stroke-linecap="round"/>
<use href="#ant" transform="translate(352.4 210.6)"/>
<text transform="translate(219.3 31.9) scale(1 1.09)" font-style="italic" style="font-size:15px">Orco</text>
<text transform="translate(576.6 32.8) scale(1 1.09)" font-style="italic" style="font-size:15px">Orco</text>
<text transform="translate(223.3 240.6) scale(1 1.09)" font-style="italic" style="font-size:15px">Ir8a</text>
<text transform="translate(223.9 258.5) scale(1 1.09)" font-style="italic" style="font-size:15px">Orco</text>
<text transform="translate(572.5 233) scale(1 1.09)" font-style="italic" style="font-size:15px">Ir8a</text>
<text transform="translate(573.1 250.9) scale(1 1.09)" font-style="italic" style="font-size:15px">Orco</text>
<rect x="252" y="23.950000000000003" width="4" height="1.3" fill="#111"/>
<rect x="609.6" y="23.950000000000003" width="4.1" height="1.3" fill="#111"/>
<rect x="250.5" y="232.04999999999998" width="3.7" height="1.3" fill="#111"/>
<rect x="257" y="250.04999999999998" width="3.7" height="1.3" fill="#111"/>
<rect x="600" y="224.85" width="3.7" height="1.3" fill="#111"/>
<rect x="606" y="242.54999999999998" width="4" height="1.3" fill="#111"/>
<text transform="translate(97.5 478.7) scale(0.92 1)" font-style="italic" style="font-size:16px">nina</text>
<text transform="translate(126.6 474.9) scale(1 1.1)" font-style="italic" style="font-size:14px">B1</text>
<text transform="translate(277 479.8) scale(0.92 1)" font-style="italic" style="font-size:16px">nina</text>
<text transform="translate(306 476.4) scale(1 1.1)" font-style="italic" style="font-size:14px">B1</text>
<g transform="translate(461 441.9)"><use href="#rb"/><use href="#cap"/></g>
<g transform="translate(631.4 442.4)"><use href="#rb"/><use href="#cap"/></g>
<g transform="translate(111.4 669) scale(1.055)"><use href="#gb"/><use href="#cap"/></g>
<g transform="translate(292.3 669) scale(1.055)"><use href="#gb"/><use href="#cap"/></g>
</svg></body></html>
